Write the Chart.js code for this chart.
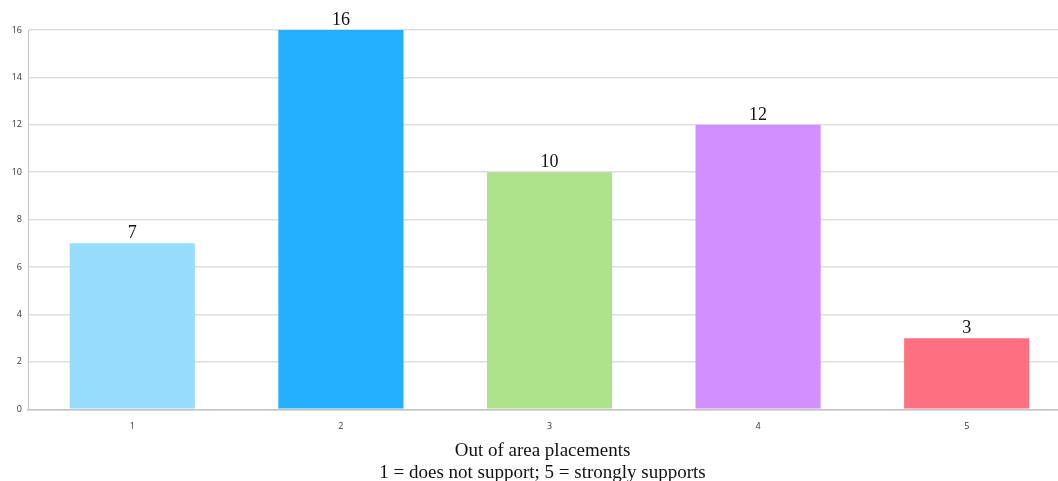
<!DOCTYPE html>
<html>
<head>
<meta charset="utf-8">
<script src="https://cdn.jsdelivr.net/npm/chart.js@4.4.1/dist/chart.umd.min.js"></script>
<style>
  html, body { margin: 0; padding: 0; background: #ffffff; overflow: hidden; }
  #wrap { width: 1071px; height: 481px; }
</style>
</head>
<body>
<div id="wrap"><canvas id="c" width="1071" height="481"></canvas></div>
<script>
// Response scale (1 = does not support, 5 = strongly supports)
const categories = ['1', '2', '3', '4', '5'];
// Number of responses per rating
const counts = [7, 16, 10, 12, 3];
// One colour per rating
const barColors = ['#98dcfd', '#24b0ff', '#aee28a', '#d18fff', '#ff6f82'];
// Y-axis ticks
const yTicks = [0, 2, 4, 6, 8, 10, 12, 14, 16];

// Writes each bar's count just above it
const valueLabels = {
  id: 'valueLabels',
  afterDatasetsDraw(chart) {
    const ctx = chart.ctx;
    const meta = chart.getDatasetMeta(0);
    const ds = chart.data.datasets[0];
    ctx.save();
    ctx.font = '18px "Liberation Serif", "Times New Roman", serif';
    ctx.fillStyle = '#111111';
    ctx.textAlign = 'center';
    ctx.textBaseline = 'alphabetic';
    meta.data.forEach((bar, i) => {
      ctx.fillText(String(ds.data[i]), bar.x, bar.y - 5);
    });
    ctx.restore();
  }
};

// Centres the caption over the span right of a 14px left margin
const captionSpan = {
  id: 'captionSpan',
  afterLayout(chart) {
    const t = chart.titleBlock;
    if (!t) return;
    t.left = 14;
    t.right = chart.width;
    t.width = t.right - t.left;
  }
};

new Chart(document.getElementById('c'), {
  type: 'bar',
  data: {
    labels: categories,
    datasets: [{
      data: counts,
      backgroundColor: barColors,
      borderWidth: 0,
      barPercentage: 0.6,
      categoryPercentage: 1.0
    }]
  },
  options: {
    responsive: false,
    animation: false,
    layout: { padding: { top: 30, left: 0, right: 0, bottom: 0 } },
    plugins: {
      legend: { display: false },
      tooltip: { enabled: false },
      title: {
        display: true,
        position: 'bottom',
        text: ['Out of area placements', '1 = does not support; 5 = strongly supports'],
        color: '#111111',
        font: { family: '"Liberation Serif", "Times New Roman", serif', size: 19, weight: 'normal', lineHeight: 1.15 },
        padding: { top: 7, bottom: -3 }
      }
    },
    scales: {
      x: {
        afterFit(scale) { scale.height = 24; },
        grid: { display: false, drawTicks: false },
        border: { display: true, color: '#c4c4c4', width: 1.5 },
        ticks: {
          color: '#333333',
          padding: 12,
          font: { family: '"Open Sans", sans-serif', size: 9 }
        }
      },
      y: {
        min: 0,
        max: 16,
        afterFit(scale) { scale.width = 28; },
        afterBuildTicks(scale) { scale.ticks = yTicks.map(v => ({ value: v })); },
        grid: { color: '#dedede', lineWidth: 1.5, drawTicks: false },
        border: { display: true, color: '#c4c4c4', width: 1 },
        ticks: {
          color: '#333333',
          padding: 6,
          font: { family: '"Open Sans", sans-serif', size: 9 }
        }
      }
    }
  },
  plugins: [valueLabels, captionSpan]
});
</script>
</body>
</html>
